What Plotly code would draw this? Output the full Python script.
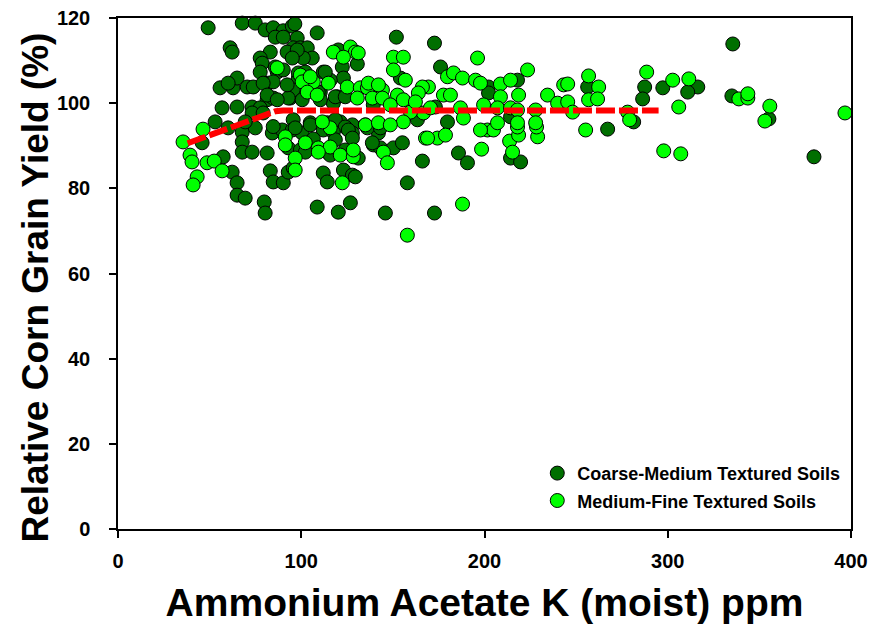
import plotly.graph_objects as go

# Coarse-Medium Textured Soils (dark green)
coarse_k = [49.2, 67.8, 74.9, 80.3, 84.7, 90.2, 95.1, 96.5, 97.8, 85.8, 90.2, 108.7, 95.6, 99.5, 103.3,
            106.0, 101.1, 120.2, 122.4, 130.6, 112.0, 151.9, 154.1, 123.0, 115.8, 98.4, 110.4, 101.1,
            119.7, 138.8, 139.3, 94.0, 95.6, 117.5, 95.6, 104.9, 121.3, 127.9, 163.4, 61.2, 62.3, 83.1,
            92.3, 97.8, 95.1, 77.6, 78.7, 77.6, 86.9, 90.2, 98.4, 102.2, 113.1, 55.7, 62.8, 65.0, 60.1,
            70.5, 73.8, 82.0, 84.7, 95.6, 109.3, 118.6, 124.0, 56.8, 65.0, 73.2, 81.4, 84.7, 92.9, 100.5,
            110.4, 53.0, 60.1, 67.8, 74.9, 84.2, 89.6, 95.1, 100.5, 104.9, 114.2, 118.6, 124.0, 127.9,
            135.0, 141.5, 142.1, 45.9, 67.8, 67.8, 73.2, 81.4, 92.9, 99.5, 102.2, 114.2, 124.0, 131.1,
            139.3, 143.2, 150.3, 57.4, 62.3, 65.0, 83.1, 84.7, 90.2, 92.9, 95.6, 112.0, 114.2, 123.0,
            127.9, 129.5, 65.0, 69.4, 79.8, 80.3, 108.7, 120.2, 126.8, 145.9, 96.7, 112.0, 117.5, 125.7,
            136.1, 143.2, 106.6, 118.6, 127.9, 138.8, 155.2, 115.8, 166.1, 157.9, 185.8, 190.7, 172.7,
            214.2, 219.7, 172.7, 176.0, 202.2, 202.2, 218.0, 173.2, 214.2, 179.8, 256.3, 267.2, 281.4,
            287.4, 286.3, 297.3, 335.5, 316.4, 310.9, 335.0, 355.2, 379.8, 85.8, 79.2, 92.3, 81.4, 86.9,
            77.6, 73.2, 79.2, 69.4, 84.7]
coarse_yield = [117.7, 118.8, 118.8, 117.2, 117.7, 117.0, 118.1, 118.6, 115.3, 115.5, 115.5, 116.5, 113.0,
                113.0, 113.0, 110.6, 110.6, 112.5, 108.5, 109.2, 107.3, 115.5, 105.9, 105.9, 105.4, 105.9,
                102.6, 103.1, 101.5, 103.8, 99.6, 101.2, 101.9, 100.0, 96.1, 95.4, 95.6, 94.9, 96.1, 113.0,
                112.0, 112.0, 112.0, 112.5, 110.6, 110.6, 109.4, 107.3, 107.3, 107.8, 107.1, 107.3, 107.3,
                103.6, 103.6, 105.9, 104.7, 103.8, 103.8, 104.7, 105.0, 103.1, 102.6, 101.5, 101.5, 98.9,
                99.1, 99.1, 100.8, 101.2, 101.2, 100.8, 100.8, 95.6, 94.2, 93.2, 94.2, 93.0, 93.7, 93.7,
                93.0, 94.9, 95.4, 96.1, 94.4, 93.0, 94.9, 94.4, 93.0, 90.7, 90.9, 88.5, 88.5, 88.3, 89.5,
                89.0, 88.5, 88.5, 89.0, 87.1, 90.2, 89.5, 89.5, 87.4, 83.8, 81.3, 84.1, 81.5, 81.3, 83.8,
                84.8, 83.6, 81.5, 84.3, 83.1, 82.7, 78.4, 77.7, 76.8, 74.2, 75.6, 74.4, 76.6, 74.2, 94.2,
                93.7, 93.2, 93.7, 94.2, 94.2, 91.6, 91.4, 91.8, 90.7, 90.7, 87.8, 86.4, 81.3, 88.3, 86.0,
                74.2, 87.1, 86.2, 114.1, 108.5, 103.8, 102.4, 105.4, 99.1, 96.8, 95.6, 103.8, 93.9, 95.6,
                103.8, 101.0, 103.6, 113.9, 103.8, 102.6, 101.7, 96.3, 87.4, 108.5, 104.7, 104.3, 101.9,
                100.8, 98.9, 97.7, 97.7, 95.6, 94.5]

# Medium-Fine Textured Soils (bright green)
fine_k = [35.5, 46.4, 39.3, 40.4, 43.2, 41.0, 48.6, 52.5, 56.8, 91.3, 96.7, 91.3, 102.2, 109.3, 115.8,
          121.3, 128.4, 144.8, 147.0, 96.7, 122.4, 115.8, 86.9, 99.5, 103.3, 106.6, 100.5, 114.8, 125.1,
          132.2, 136.1, 144.3, 109.3, 128.4, 167.8, 157.9, 198.4, 188.0, 174.3, 178.7, 168.9, 201.6, 204.9,
          213.7, 215.3, 218.6, 229.0, 218.0, 228.4, 196.2, 179.8, 183.1, 188.0, 195.1, 197.8, 208.7, 214.2,
          223.5, 208.7, 218.6, 234.4, 239.9, 243.2, 169.4, 166.1, 177.6, 181.4, 186.9, 199.5, 207.1, 214.2,
          218.0, 227.9, 188.5, 207.1, 218.0, 227.9, 166.7, 170.5, 117.5, 126.8, 129.5, 131.1, 123.0, 150.3,
          155.7, 150.3, 156.8, 163.9, 152.5, 104.9, 136.6, 142.1, 138.8, 130.6, 144.3, 148.6, 155.7, 159.6,
          162.3, 103.3, 108.7, 111.5, 135.0, 142.1, 155.7, 148.6, 245.4, 256.8, 262.3, 256.8, 261.7, 245.4,
          248.1, 255.2, 278.1, 279.2, 288.5, 302.7, 306.0, 297.8, 307.1, 197.8, 311.5, 338.8, 343.7, 343.7,
          355.7, 353.0, 396.7]
fine_yield = [90.9, 93.9, 87.8, 86.2, 82.7, 80.8, 86.0, 86.4, 84.1, 92.1, 87.1, 90.2, 90.7, 89.5, 89.7,
              87.8, 87.4, 88.5, 86.0, 84.3, 81.3, 94.2, 108.3, 106.6, 105.4, 105.0, 105.0, 104.7, 103.8,
              103.6, 103.6, 103.1, 88.5, 89.0, 91.8, 69.0, 89.2, 76.3, 91.8, 92.5, 91.8, 93.7, 93.7, 91.1,
              88.5, 92.5, 92.1, 94.4, 94.4, 110.6, 106.2, 107.1, 105.9, 105.4, 104.7, 104.5, 105.4, 107.8,
              101.5, 101.9, 101.9, 100.0, 104.3, 103.8, 103.8, 101.9, 101.9, 98.9, 99.6, 98.9, 98.9, 98.4,
              98.4, 96.5, 95.4, 95.4, 95.4, 97.7, 98.9, 112.0, 113.2, 112.0, 111.8, 110.8, 110.8, 110.8,
              107.8, 105.4, 102.4, 101.9, 106.2, 104.7, 104.3, 101.2, 101.2, 101.2, 99.6, 100.8, 97.9,
              100.3, 102.6, 101.9, 95.6, 94.9, 95.4, 95.6, 94.9, 104.5, 106.4, 103.8, 100.8, 101.0, 100.3,
              97.9, 93.7, 97.9, 96.1, 107.3, 105.4, 99.1, 88.8, 88.1, 93.7, 105.7, 101.0, 101.2, 102.2,
              99.3, 95.8, 97.7]

# Fitted quadratic-plateau response curve
fit_k = [38, 50, 62, 74, 86, 90, 295]
fit_yield = [90.6, 92.5, 94.5, 96.4, 98.1, 98.3, 98.3]

x_ticks = [0, 100, 200, 300, 400]
y_ticks = [0, 20, 40, 60, 80, 100, 120]

FONT = "Liberation Sans, Arial, sans-serif"

fig = go.Figure()
fig.add_trace(go.Scatter(
    x=coarse_k, y=coarse_yield, mode="markers", name="Coarse-Medium Textured Soils",
    legendgroup="a", cliponaxis=False,
    marker=dict(size=14, color="#006f00", line=dict(color="black", width=1))))
fig.add_trace(go.Scatter(
    x=fine_k, y=fine_yield, mode="markers", name="Medium-Fine Textured Soils",
    legendgroup="b", cliponaxis=False,
    marker=dict(size=14, color="#00ff00", line=dict(color="black", width=1))))
fig.add_trace(go.Scatter(
    x=fit_k, y=fit_yield, mode="lines", showlegend=False, cliponaxis=False,
    line=dict(color="#ff0000", width=6, dash="19px,4px")))

axis_common = dict(
    showgrid=False, zeroline=False, showline=True, linecolor="black", linewidth=1.5,
    mirror=True, ticks="outside", ticklen=7, tickwidth=1.5, tickcolor="black",
    automargin=False,
    tickfont=dict(family=FONT, size=20, color="black", weight="bold"),
)

fig.update_layout(
    width=869, height=632,
    margin=dict(l=118, r=18, t=18, b=103),
    paper_bgcolor="white", plot_bgcolor="white",
    xaxis=dict(range=[0, 400], tickvals=x_ticks, ticklabelstandoff=6,
               title=dict(text="Ammonium Acetate K (moist) ppm", standoff=18,
                          font=dict(family=FONT, size=39, color="black", weight="bold")),
               **axis_common),
    yaxis=dict(range=[0, 120], tickvals=y_ticks, ticklabelstandoff=15, **axis_common),
    legend=dict(x=0.572, y=0.145, xanchor="left", yanchor="top",
                bgcolor="rgba(0,0,0,0)", traceorder="grouped", tracegroupgap=1,
                font=dict(family=FONT, size=18, color="black", weight="bold")),
    showlegend=True,
    annotations=[dict(
        text="Relative Corn Grain Yield (%)", textangle=-90,
        xref="paper", yref="paper", x=-0.113, y=0.473,
        xanchor="center", yanchor="middle", showarrow=False,
        font=dict(family=FONT, size=37, color="black", weight="bold"))],
)

fig.write_html("out.html")
